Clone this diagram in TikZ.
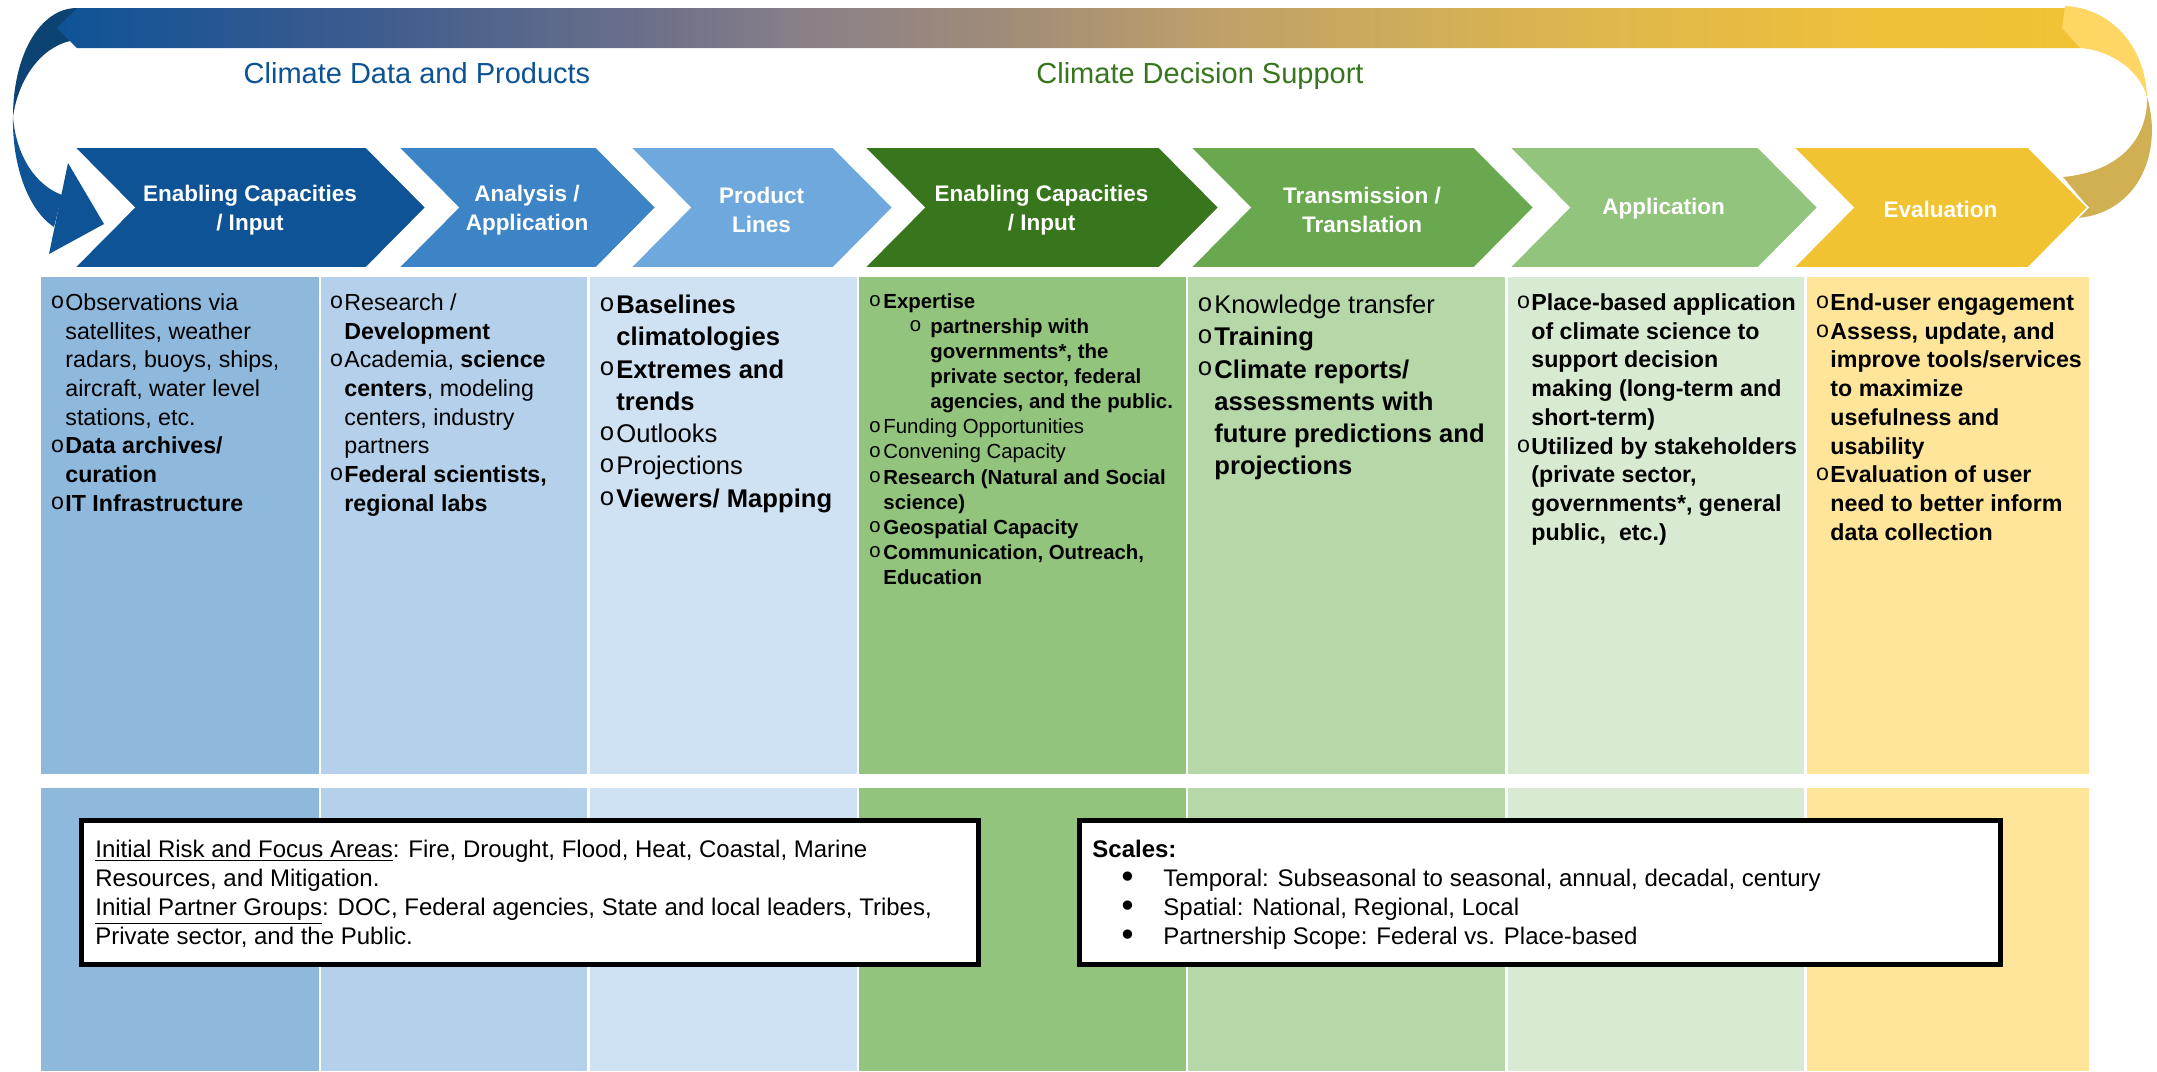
\documentclass[tikz,border=0pt]{standalone}
\usepackage{fontspec}
\setmainfont{Liberation Sans}
\newfontfamily\symf{DejaVu Sans}
\newfontfamily\monof{Liberation Mono}
\definecolor{colA}{HTML}{8EB9DD}
\definecolor{colB}{HTML}{B4D0EA}
\definecolor{colC}{HTML}{CFE2F3}
\definecolor{colD}{HTML}{93C47D}
\definecolor{colE}{HTML}{B6D7A8}
\definecolor{colF}{HTML}{D9EAD3}
\definecolor{colG}{HTML}{FFE599}
\definecolor{chA}{HTML}{0E5396}
\definecolor{chB}{HTML}{3D84C6}
\definecolor{chC}{HTML}{6FA8DC}
\definecolor{chD}{HTML}{38761D}
\definecolor{chE}{HTML}{6AA84F}
\definecolor{chF}{HTML}{93C47D}
\definecolor{chG}{HTML}{F1C232}
\definecolor{ribdark}{HTML}{0D4373}
\definecolor{riblight}{HTML}{FDD663}
\definecolor{ribgold}{HTML}{D1B054}
\definecolor{titleblue}{HTML}{0B5394}
\definecolor{titlegreen}{HTML}{38761D}
\definecolor{gA}{HTML}{0E5396}
\definecolor{gB}{HTML}{3C5B8E}
\definecolor{gC}{HTML}{6F7189}
\definecolor{gD}{HTML}{8A8088}
\definecolor{gE}{HTML}{A08C78}
\definecolor{gF}{HTML}{BEA06A}
\definecolor{gG}{HTML}{DDB64E}
\definecolor{gH}{HTML}{EEC03A}
\definecolor{gI}{HTML}{F1C232}
\pgfdeclarehorizontalshading{bandgrad}{100bp}{color(0bp)=(gA); color(25bp)=(gA); color(32.5bp)=(gB); color(40bp)=(gC); color(43.5bp)=(gD); color(48.5bp)=(gE); color(53.5bp)=(gF); color(62.5bp)=(gG); color(70bp)=(gH); color(75bp)=(gI); color(100bp)=(gI)}
\newcommand\obul{\raisebox{0.08em}{\monof\mdseries o}}
\newcommand\bl[1][6pt]{\makebox[#1][l]{\hspace{-0.12em}\obul}}
\newcommand\ind[1][6pt]{\hspace*{#1}}
\newcommand\fsz[2]{\fontsize{#1}{#2}\selectfont}
\newcommand\dotb{\makebox[22.5pt][l]{\raisebox{-0.9pt}{\fontsize{16pt}{16pt}\symf •}}}
\newcommand\chev[3]{\filldraw[fill=#3, draw=white, line width=0.8pt] (#1,147) -- (#2,147) -- ({#2+60},207.5) -- (#2,268) -- (#1,268) -- ({#1+60},207.5) -- cycle;}
\tikzset{
  coltext/.style={anchor=north west, inner sep=0pt, align=left},
  smalltxt/.style={coltext, font=\fsz{11.6pt}{14.35pt}},
  bigtxt/.style={coltext, font=\fsz{12.8pt}{16.15pt}},
  tinytxt/.style={coltext, font=\fsz{10.2pt}{12.55pt}},
  boxtxt/.style={coltext, font=\fsz{12pt}{14.5pt}},
  chevtext/.style={text=white, font=\fsz{11.25pt}{14.5pt}\bfseries, align=center, inner sep=0pt},
  titletxt/.style={anchor=base, inner sep=0pt, font=\fsz{14.5pt}{17pt}},
  infobox/.style={draw=black, line width=2.5pt, fill=white}
}
\begin{document}
\begin{tikzpicture}[x=0.5pt,y=-0.5pt]
\fill[white] (0,0) rectangle (2157,1071);
\useasboundingbox (0,0) rectangle (2157,1071);
% table columns
\foreach \l/\r/\c in {41/319/colA,321/587/colB,590/857/colC,859/1186/colD,1188/1505/colE,1508/1804/colF,1807/2089/colG}{
  \fill[\c] (\l,277) rectangle (\r,774);
  \fill[\c] (\l,788) rectangle (\r,1071);
}
% left ribbon (back part)
\fill[ribdark] (77,8) .. controls (40,8) and (13,55) .. (13,117) .. controls (18,80) and (40,48) .. (70,41) -- cycle;
% top band
\shade[shading=bandgrad] (57,28) -- (77,8) -- (2075,8) -- (2080,48) -- (77,48) -- cycle;
% left ribbon (front part) and arrow head
\fill[chA] (13,117) .. controls (12,165) and (28,210) .. (54,227) -- (62,195) .. controls (35,185) and (16,155) .. (13,117) -- cycle;
\fill[chA] (68,163) -- (104,224) -- (49,254) -- cycle;
% right ribbon
\fill[ribgold] (2147,97) .. controls (2163,150) and (2140,212) .. (2078,218) -- (2088,207) -- (2063,177) .. controls (2118,172) and (2148,140) .. (2147,97) -- cycle;
\fill[riblight] (2065,6) .. controls (2110,8) and (2145,45) .. (2147,97) .. controls (2140,70) and (2110,50) .. (2080,48) -- (2062,28) -- cycle;
% chevrons
\chev{74}{366}{chA}
\chev{398}{596}{chB}
\chev{630}{833}{chC}
\chev{864}{1159}{chD}
\chev{1190}{1474}{chE}
\chev{1509}{1758}{chF}
\chev{1793}{2028}{chG}
\node[chevtext] (h1) at (250,210) {Enabling Capacities\\/ Input};
\node[chevtext] (h2) at (527,210) {Analysis /\\Application};
\node[chevtext] (h3) at (761.5,210) {Product\\Lines};
\node[chevtext] (h4) at (1041.5,210) {Enabling Capacities\\/ Input};
\node[chevtext] (h5) at (1362,210) {Transmission /\\Translation};
\node[chevtext] (h6) at (1663.5,209) {Application};
\node[chevtext] (h7) at (1940.5,209) {Evaluation};
% titles
\node[titletxt, text=titleblue] (ti1) at (417,83) {Climate Data and Products};
\node[titletxt, text=titlegreen] (ti2) at (1200,83) {Climate Decision Support};
% column texts
\node[smalltxt] (t1) at (53,290) {\strut\bl Observations via\\\ind satellites, weather\\\ind radars, buoys, ships,\\\ind aircraft, water level\\\ind stations, etc.\\\bl\textbf{Data archives/}\\\ind\textbf{curation}\\\bl\textbf{IT Infrastructure}};
\node[smalltxt] (t2) at (332,290) {\strut\bl Research /\\\ind\textbf{Development}\\\bl Academia, \textbf{science}\\\ind\textbf{centers}, modeling\\\ind centers, industry\\\ind partners\\\bl\textbf{Federal scientists,}\\\ind\textbf{regional labs}};
\node[bigtxt] (t3) at (602,290.4) {\strut\bl[7pt]\textbf{Baselines}\\\ind[7pt]\textbf{climatologies}\\\bl[7pt]\textbf{Extremes and}\\\ind[7pt]\textbf{trends}\\\bl[7pt]Outlooks\\\bl[7pt]Projections\\\bl[7pt]\textbf{Viewers/ Mapping}};
\node[tinytxt] (t4) at (871,290.4) {\strut\bl\textbf{Expertise}\\\hspace*{19pt}\makebox[10.5pt][l]{\obul}\textbf{partnership with}\\\hspace*{29.5pt}\textbf{governments*, the}\\\hspace*{29.5pt}\textbf{private sector, federal}\\\hspace*{29.5pt}\textbf{agencies, and the public.}\\\bl Funding Opportunities\\\bl Convening Capacity\\\bl\textbf{Research (Natural and Social}\\\ind\textbf{science)}\\\bl\textbf{Geospatial Capacity}\\\bl\textbf{Communication, Outreach,}\\\ind\textbf{Education}};
\node[bigtxt] (t5) at (1200,290.4) {\strut\bl[7pt]Knowledge transfer\\\bl[7pt]\textbf{Training}\\\bl[7pt]\textbf{Climate reports/}\\\ind[7pt]\textbf{assessments with}\\\ind[7pt]\textbf{future predictions and}\\\ind[7pt]\textbf{projections}};
\node[smalltxt, font=\fsz{11.6pt}{14.35pt}\bfseries] (t6) at (1519,290) {\strut\bl Place-based application\\\ind of climate science to\\\ind support decision\\\ind making (long-term and\\\ind short-term)\\\bl Utilized by stakeholders\\\ind (private sector,\\\ind governments*, general\\\ind public,~ etc.)};
\node[smalltxt, font=\fsz{11.6pt}{14.35pt}\bfseries] (t7) at (1818,290) {\strut\bl End-user engagement\\\bl Assess, update, and\\\ind improve tools/services\\\ind to maximize\\\ind usefulness and\\\ind usability\\\bl Evaluation of user\\\ind need to better inform\\\ind data collection};
% info boxes
\draw[infobox] (81.5,820.5) rectangle (978.5,964.5);
\draw[infobox] (1079.5,820.5) rectangle (2000.5,964.5);
\node[boxtxt] (r1) at (95,836.7) {\strut\underline{Initial Risk and Focus Areas}: Fire, Drought, Flood, Heat, Coastal, Marine\\Resources, and Mitigation.\\\underline{Initial Partner Groups}: DOC, Federal agencies, State and local leaders, Tribes,\\Private sector, and the Public.};
\node[boxtxt] (s1) at (1092,836.7) {\strut\textbf{Scales:}\\\hspace*{13pt}\dotb Temporal: Subseasonal to seasonal, annual, decadal, century\\\hspace*{13pt}\dotb Spatial: National, Regional, Local\\\hspace*{13pt}\dotb Partnership Scope: Federal vs. Place-based};
\end{tikzpicture}
\end{document}
